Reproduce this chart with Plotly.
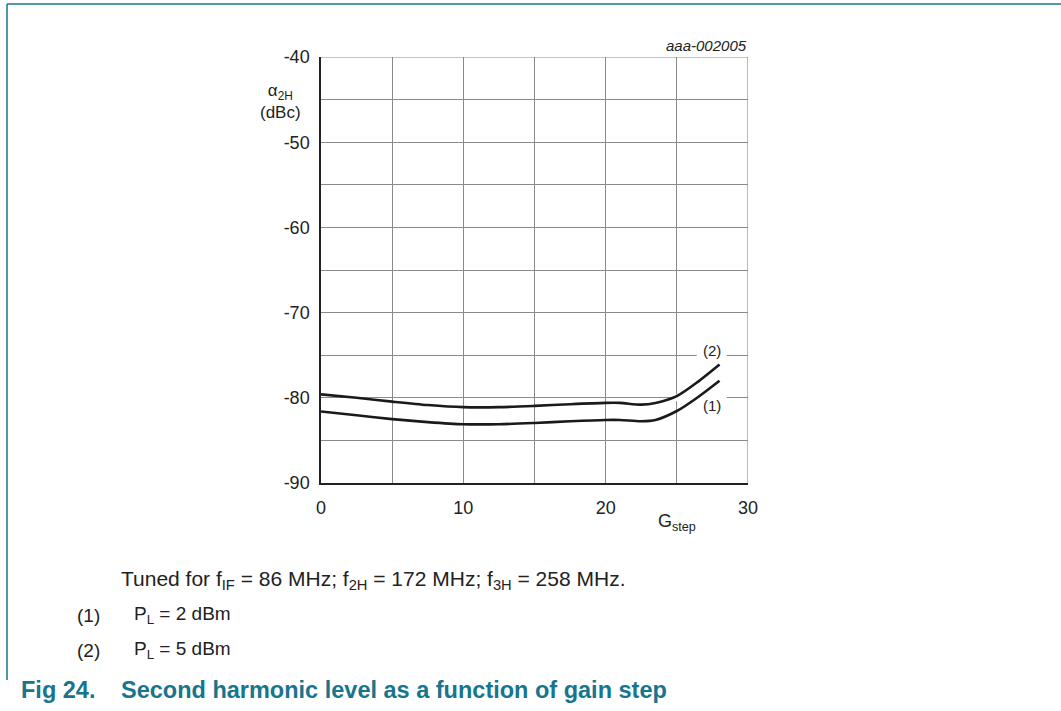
import plotly.graph_objects as go

# Gain step setting (x) and second-harmonic level in dBc (y)
g_step = [0, 2.5, 5, 7.5, 10, 12.5, 15, 17.5, 20, 21, 22.5, 23.5, 25, 26.5, 28]
alpha_pl2 = [-81.6, -82.05, -82.5, -82.85, -83.1, -83.1, -82.95, -82.75, -82.6, -82.6, -82.75, -82.6, -81.55, -79.9, -78.0]
alpha_pl5 = [-79.6, -80.0, -80.45, -80.85, -81.1, -81.1, -80.95, -80.75, -80.6, -80.6, -80.8, -80.6, -79.8, -78.1, -76.1]

x_ticks = [0, 10, 20, 30]
x_tick_text = ["0", "10", "20", "30"]
y_ticks = [-40, -50, -60, -70, -80, -90]
y_tick_text = ["-40", "-50", "-60", "-70", "-80", "-90"]

teal = "#17758d"
ink = "#222222"
font_family = "Liberation Sans, Arial, sans-serif"

fig = go.Figure()
for ys in (alpha_pl2, alpha_pl5):
    fig.add_trace(go.Scatter(
        x=g_step, y=ys, mode="lines",
        line=dict(color="#1a1a1a", width=2.6, shape="spline", smoothing=0.8),
        hoverinfo="skip", showlegend=False,
    ))

grid = "#8a8a8a"
axis_common = dict(
    showgrid=True, gridcolor=grid, gridwidth=1,
    minor=dict(dtick=5, showgrid=True, gridcolor=grid, gridwidth=1),
    showline=True, linecolor=ink, linewidth=1.5, mirror=False,
    zeroline=False, ticks="outside", tickcolor="rgba(0,0,0,0)",
    tickfont=dict(size=18, color=ink, family=font_family),
)
fig.update_xaxes(range=[0, 30], tickvals=x_ticks, ticktext=x_tick_text, ticklen=8, **axis_common)
fig.update_yaxes(range=[-90, -40], tickvals=y_ticks, ticktext=y_tick_text, ticklen=6, **axis_common)

fig.update_layout(shapes=[
    # gaps in gridlines behind the curve labels
    dict(type="rect", xref="x", yref="y", x0=26.4, x1=28.5, y0=-75.4, y1=-74.6,
         fillcolor="white", line=dict(width=0), layer="between"),
    dict(type="rect", xref="x", yref="y", x0=24.6, x1=28.5, y0=-80.4, y1=-79.6,
         fillcolor="white", line=dict(width=0), layer="between"),
    # top and right plot border
    dict(type="line", xref="x", yref="y", x0=30, x1=30, y0=-90, y1=-40,
         line=dict(color=grid, width=1.2), layer="between"),
    dict(type="line", xref="x", yref="y", x0=0, x1=30, y0=-40, y1=-40,
         line=dict(color=grid, width=1.2), layer="between"),
])

# Pixel-based placement helpers
W, H = 1061, 711
L, R, T, B = 321, 313, 57, 228
pw, ph = W - L - R, H - T - B


def px(xp, yp):
    return (xp - L) / pw, (H - B - yp) / ph


ann = [
    dict(x=27.5, y=-74.47, xref="x", yref="y", text="(2)", showarrow=False,
         font=dict(size=15, color=ink, family=font_family)),
    dict(x=27.5, y=-80.96, xref="x", yref="y", text="(1)", showarrow=False,
         font=dict(size=15, color=ink, family=font_family)),
]


def add_text(xp, yp, text, size, anchor="left", color=ink):
    x, y = px(xp, yp)
    ann.append(dict(x=x, y=y, xref="paper", yref="paper", text=text, showarrow=False,
                    xanchor=anchor, yanchor="middle", align="center",
                    font=dict(size=size, color=color, family=font_family)))


add_text(749, 46, "<i>aaa-002005</i>", 15, anchor="right")
add_text(280, 102, "α<sub>2H</sub><br>(dBc)", 17, anchor="center")
add_text(677, 522, "G<sub>step</sub>", 18, anchor="center")
add_text(119, 580, "Tuned for f<sub>IF</sub> = 86 MHz; f<sub>2H</sub> = 172 MHz; "
         "f<sub>3H</sub> = 258 MHz.", 21)
add_text(75, 615, "(1)", 19)
add_text(132, 615, "P<sub>L</sub> = 2 dBm", 19)
add_text(75, 650, "(2)", 19)
add_text(132, 650, "P<sub>L</sub> = 5 dBm", 19)
add_text(19, 690, "<b>Fig 24.</b>", 23.5, color=teal)
add_text(119, 690, "<b>Second harmonic level as a function of gain step</b>", 23.5, color=teal)
fig.update_layout(annotations=ann)

# Page frame lines (top and left edge)
fx0, fy0 = px(7, 4)
fx1, _ = px(1061, 4)
_, fy1 = px(7, 680)
fig.add_shape(type="line", xref="paper", yref="paper", x0=fx0, x1=fx1, y0=fy0, y1=fy0,
              line=dict(color=teal, width=1.5), layer="above")
fig.add_shape(type="line", xref="paper", yref="paper", x0=fx0, x1=fx0, y0=fy0, y1=fy1,
              line=dict(color=teal, width=1.5), layer="above")

fig.update_layout(
    width=W, height=H, autosize=False,
    margin=dict(l=L, r=R, t=T, b=B, pad=0),
    paper_bgcolor="white", plot_bgcolor="white",
    font=dict(family=font_family),
)

fig.write_html("out.html", config={"displayModeBar": False})
